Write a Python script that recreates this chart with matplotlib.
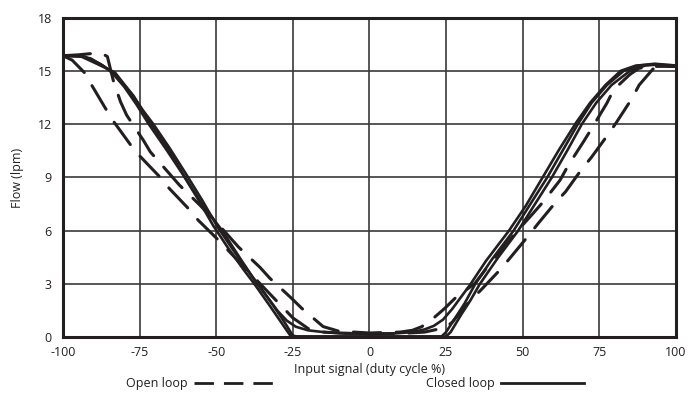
import matplotlib
matplotlib.use("Agg")
import matplotlib.pyplot as plt
from matplotlib.lines import Line2D

plt.rcParams['font.family'] = ['Open Sans', 'DejaVu Sans']
plt.rcParams['axes.unicode_minus'] = False

# closed loop curves (solid)
closed_a_x = [-100, -95, -91, -87, -84, -80, -76, -72, -66, -61, -56, -51, -46, -41, -37.5, -33, -29, -26, -25,
              0, 25, 26.5, 30, 33, 36, 42, 48.5, 54, 59.5, 64.5, 69.3, 74, 79, 85, 90, 94, 100]
closed_a_y = [15.85, 15.85, 15.7, 15.3, 14.9, 14.1, 13.1, 12.0, 10.5, 9.2, 7.8, 6.3, 5.0, 3.8, 3.0, 1.9, 0.9, 0.15, 0.05,
              0.05, 0.05, 0.3, 1.3, 2.1, 3.0, 4.5, 6.0, 7.5, 9.0, 10.5, 12.0, 13.2, 14.2, 15.0, 15.3, 15.35, 15.25]

closed_b_x = [-100, -94, -89, -83, -78, -74, -70.5, -65, -59.5, -54.5, -49.5, -44, -39, -35.5, -31, -27.5, -25, -23.5,
              0, 23.5, 25, 28, 31, 34.5, 40, 47, 52.5, 58, 63, 68, 72.5, 77.5, 83, 88, 93, 100]
closed_b_y = [15.85, 15.8, 15.4, 14.9, 13.8, 12.8, 12.0, 10.6, 9.1, 7.7, 6.2, 4.8, 3.6, 2.8, 1.7, 0.8, 0.1, 0.05,
              0.05, 0.05, 0.3, 1.1, 1.9, 3.0, 4.4, 6.0, 7.5, 9.0, 10.5, 12.0, 13.2, 14.2, 15.0, 15.3, 15.4, 15.3]

closed_c_x = [-100, -93, -88, -83.5, -77, -72, -66, -60.5, -55, -48, -42, -37, -33, -30, -27, -24, -20, -15, -8,
              0, 8, 14, 18, 21, 24, 27, 30, 33, 38, 45.5, 51, 56.5, 62, 67.5, 72, 77, 82, 87, 92, 100]
closed_c_y = [15.85, 15.8, 15.4, 14.9, 13.6, 12.2, 10.7, 9.1, 7.6, 6.0, 4.4, 3.1, 2.2, 1.5, 0.95, 0.6, 0.4, 0.3, 0.22,
              0.2, 0.22, 0.3, 0.45, 0.65, 1.0, 1.6, 2.3, 3.0, 4.3, 6.0, 7.4, 9.0, 10.6, 12.1, 13.2, 14.2, 15.0, 15.3, 15.35, 15.3]

# open loop curves (dashed)
open_a_x = [-100, -97, -93, -91, -86, -83.7, -77.8, -74.9, -68.4, -65.3, -58.8, -55.9, -49.3, -45, -40, -35, -30, -25,
            -20, -15, -10, 0, 10, 18, 22, 25, 27, 33, 36, 42.6, 45.3, 51.3, 55, 60.5, 64, 69, 72.5, 78, 80.6, 85.5,
            88, 92.5, 96, 100]
open_a_y = [15.85, 15.6, 14.9, 14.3, 12.85, 12.2, 10.8, 10.2, 9.03, 8.38, 7.2, 6.6, 5.48, 4.7, 3.8, 2.9, 2.0, 1.1,
            0.5, 0.3, 0.25, 0.2, 0.22, 0.3, 0.45, 0.6, 0.85, 2.1, 2.6, 3.8, 4.35, 5.6, 6.4, 7.55, 8.2, 9.4, 10.15, 11.45,
            12.1, 13.4, 14.2, 15.1, 15.25, 15.25]

open_b_x = [-100, -95, -89, -87, -85.5, -84.8, -83.5, -81.2, -79.2, -73.8, -71.5, -65.3, -62, -55.3, -49, -42.8,
            -35.7, -32.5, -25.4, -22.1, -15.1, -10, 0, 10, 14, 17, 20, 24.6, 27.9, 34.4, 40, 47.5, 53.4, 56.7, 62.2,
            64.9, 69.8, 72.5, 77.4, 79.6, 81.8, 85, 88, 93, 100]
open_b_y = [15.85, 15.9, 16.0, 15.95, 15.8, 15.3, 14.4, 13.25, 12.5, 11.1, 10.44, 9.22, 8.57, 7.44, 6.3, 5.1,
            3.94, 3.33, 2.2, 1.64, 0.61, 0.35, 0.25, 0.3, 0.4, 0.6, 0.95, 1.64, 2.2, 3.04, 4.3, 5.85, 6.98, 7.63, 8.85,
            9.69, 11.0, 11.75, 13.16, 13.9, 14.28, 14.8, 15.15, 15.25, 15.25]

x_ticks = [-100, -75, -50, -25, 0, 25, 50, 75, 100]
y_ticks = [0, 3, 6, 9, 12, 15, 18]

ink = '#231f20'
dash = (9, 5)

fig = plt.figure(figsize=(6.89, 4.12), dpi=100)
ax = fig.add_axes([0.0914, 0.181, 0.8896, 0.7765])

ax.grid(True, color='#3a3a3a', linewidth=1.2)
ax.set_axisbelow(True)

for xs, ys in [(closed_a_x, closed_a_y), (closed_b_x, closed_b_y), (closed_c_x, closed_c_y)]:
    ax.plot(xs, ys, color=ink, linewidth=1.9, solid_capstyle='round', solid_joinstyle='round')
for xs, ys in [(open_a_x, open_a_y), (open_b_x, open_b_y)]:
    ax.plot(xs, ys, color=ink, linewidth=2.2, dashes=dash, dash_capstyle='round')

ax.set_xlim(-100, 100)
ax.set_ylim(0, 18)
ax.set_xticks(x_ticks)
ax.set_yticks(y_ticks)
ax.tick_params(length=0, labelsize=9, colors=ink)
ax.tick_params(axis='y', pad=8)
ax.tick_params(axis='x', pad=6)
for s in ax.spines.values():
    s.set_linewidth(2.2)
    s.set_color(ink)

ax.set_xlabel('Input signal (duty cycle %)', fontsize=9, color=ink, labelpad=3)
ax.set_ylabel('Flow (lpm)', fontsize=9, color=ink, labelpad=10)

handles = [Line2D([], [], color=ink, linewidth=2.0, dashes=(7, 3.6)),
           Line2D([], [], color=ink, linewidth=2.0)]
fig.legend(handles, ['Open loop', 'Closed loop'], loc='center', bbox_to_anchor=(0.515, 0.068),
           ncol=2, frameon=False, markerfirst=False, handlelength=6.6, columnspacing=12,
           handletextpad=0.5, fontsize=9, labelcolor=ink)

fig.savefig('out.png', dpi=100)
